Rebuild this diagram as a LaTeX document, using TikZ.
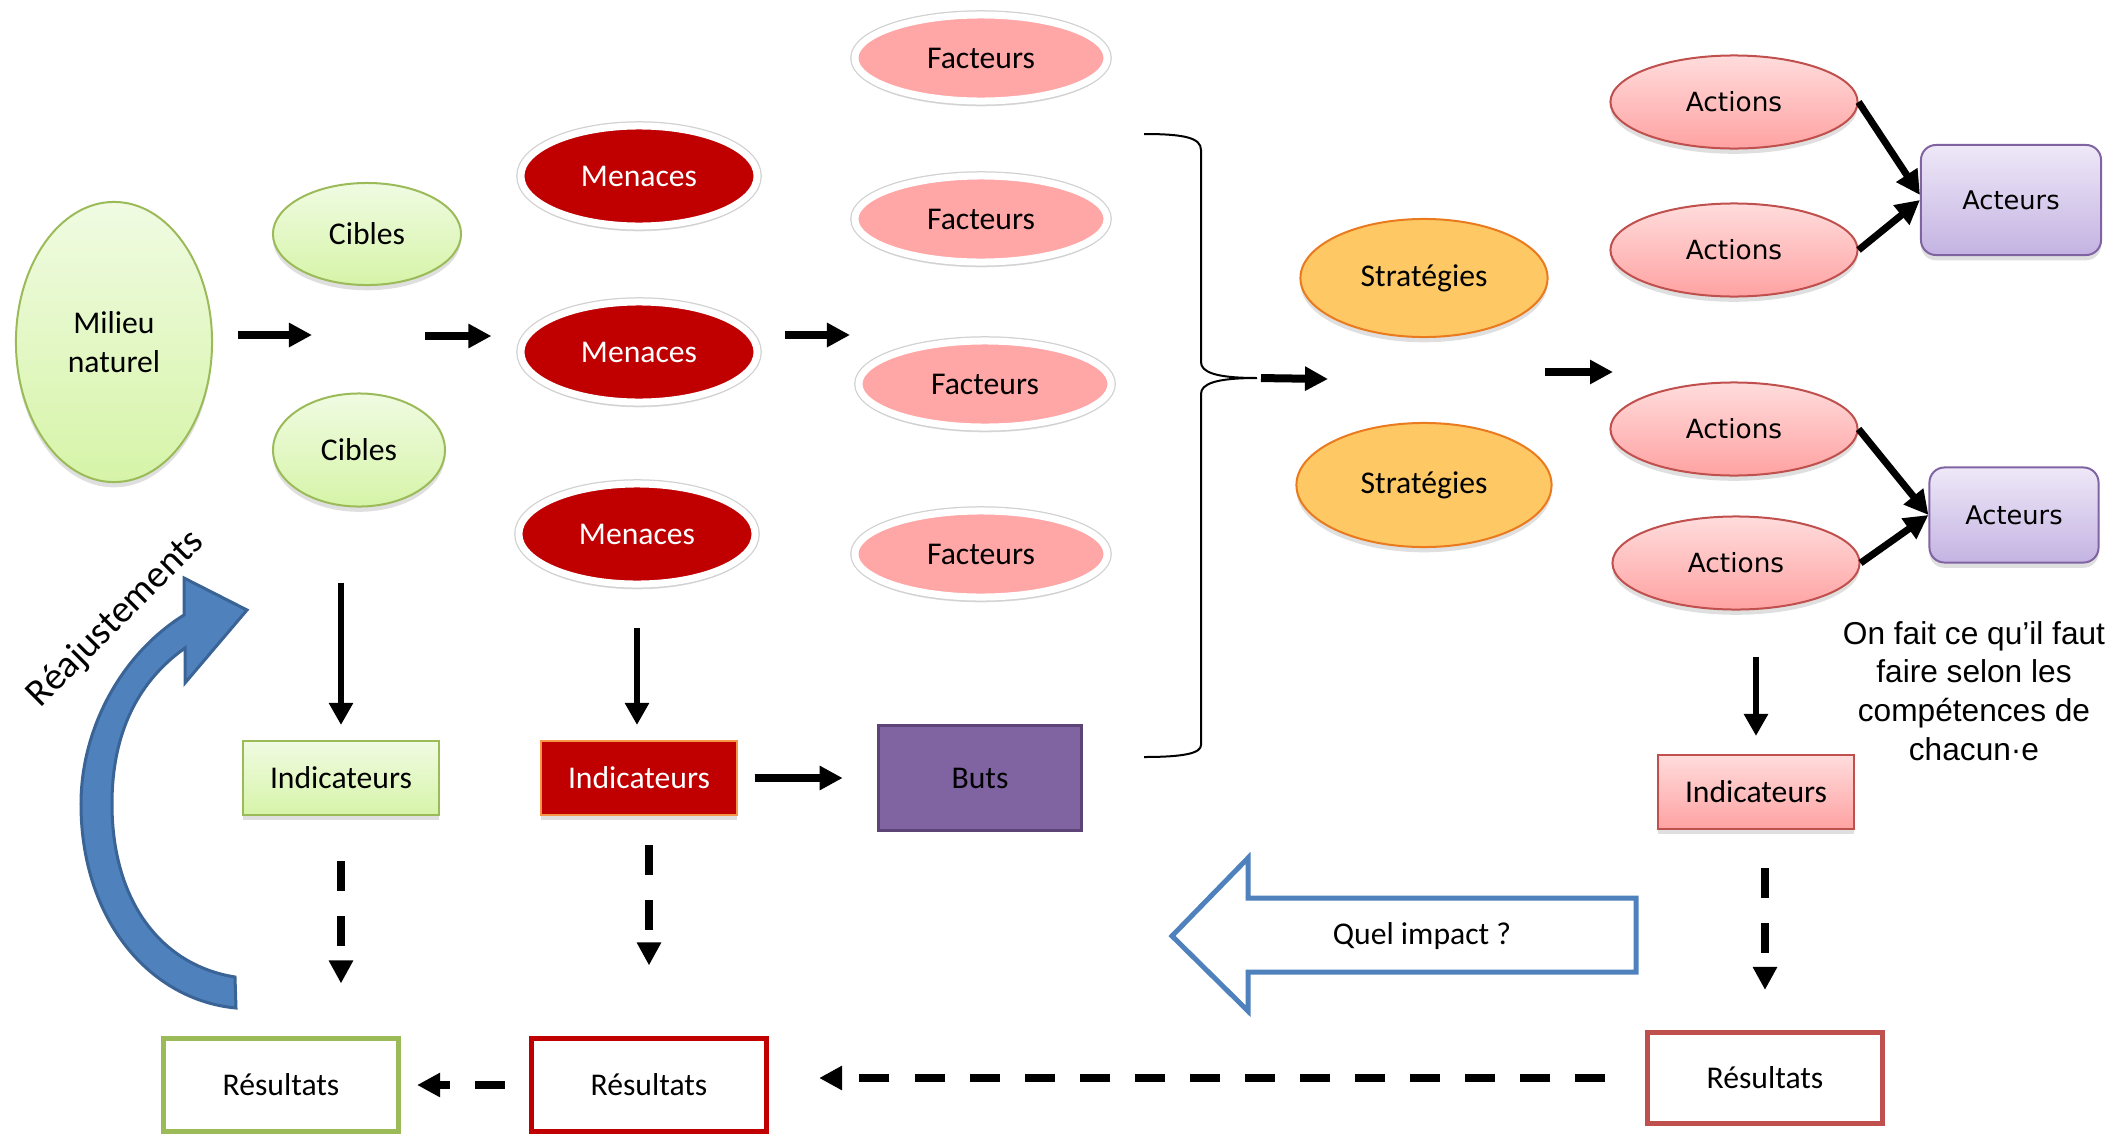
\documentclass[tikz,border=0pt]{standalone}
\usepackage{fontspec}
\setmainfont{Carlito}
\newfontfamily\verdana{DejaVu Sans}
\newfontfamily\arial{Liberation Sans}
\usetikzlibrary{arrows.meta,shapes.geometric,shadows}

\definecolor{vertbord}{HTML}{9BBB59}
\definecolor{verthaut}{HTML}{F0FBE2}
\definecolor{vertbas}{HTML}{D6F4A8}
\definecolor{rouge}{HTML}{C00000}
\definecolor{rose}{HTML}{FFA6A6}
\definecolor{rougebord}{HTML}{C0504D}
\definecolor{rosehaut}{HTML}{FFDCDC}
\definecolor{rosebas}{HTML}{FFA2A2}
\definecolor{orangefond}{HTML}{FEC864}
\definecolor{orangebord}{HTML}{E97A1E}
\definecolor{orangeclair}{HTML}{F79646}
\definecolor{violetbord}{HTML}{8064A2}
\definecolor{violethaut}{HTML}{EEE8F8}
\definecolor{violetbas}{HTML}{C4B3E2}
\definecolor{violetfonce}{HTML}{5C4476}
\definecolor{bleu}{HTML}{4F81BD}
\definecolor{bleufonce}{HTML}{3A6396}

\begin{document}
\begin{tikzpicture}[x=0.01cm,y=-0.01cm,
    every node/.style={font=\fontsize{9}{11}\selectfont},
    ombre/.style={drop shadow={shadow xshift=0pt,shadow yshift=-1.5pt,opacity=0.25}},
    anneau/.style={ombre,preaction={draw=black!18,line width=0.095cm},draw=white,line width=0.07cm},
    cible/.style={ellipse,ombre,draw=vertbord,line width=0.02cm,top color=verthaut,bottom color=vertbas,inner sep=0pt},
    menace/.style={ellipse,anneau,fill=rouge,text=white,inner sep=0pt,minimum width=2.36cm,minimum height=1cm},
    facteur/.style={ellipse,anneau,fill=rose,inner sep=0pt,minimum width=2.52cm,minimum height=0.86cm},
    strategie/.style={ellipse,ombre,draw=orangebord,line width=0.02cm,fill=orangefond,inner sep=0pt},
    action/.style={ellipse,ombre,draw=rougebord,line width=0.02cm,top color=rosehaut,bottom color=rosebas,inner sep=0pt,minimum width=2.47cm,minimum height=0.93cm,font=\verdana\fontsize{7.5}{9}\selectfont},
    acteur/.style={rectangle,rounded corners=0.15cm,ombre,draw=violetbord,line width=0.02cm,top color=violethaut,bottom color=violetbas,inner sep=0pt,font=\verdana\fontsize{7.3}{9}\selectfont},
    indic/.style={rectangle,ombre,line width=0.02cm,inner sep=0pt,minimum width=1.95cm,minimum height=0.74cm},
    resultat/.style={rectangle,fill=white,line width=0.05cm,inner sep=0pt,minimum width=2.35cm,minimum height=0.92cm},
    grosse/.style={line width=0.08cm,-{Triangle[length=0.23cm,width=0.23cm]}},
    fine/.style={line width=0.06cm,-{Triangle[length=0.22cm,width=0.23cm]}},
    diag/.style={line width=0.07cm,-{Triangle[length=0.24cm,width=0.24cm]}},
    tirets/.style={line width=0.08cm,dash pattern=on 0.3cm off 0.25cm,-{Triangle[length=0.23cm,width=0.23cm]}}]
    \useasboundingbox (0,0) rectangle (2108,1136);

    % milieu et cibles
    \node[cible,minimum width=1.96cm,minimum height=2.8cm,align=center] (milieu) at (114,342) {Milieu\\naturel};
    \node[cible,minimum width=1.88cm,minimum height=1.02cm] (cible1) at (367,234) {Cibles};
    \node[cible,minimum width=1.72cm,minimum height=1.13cm] (cible2) at (359,450) {Cibles};

    % menaces et facteurs
    \node[menace] (menace1) at (639,176) {Menaces};
    \node[menace] (menace2) at (639,352) {Menaces};
    \node[menace] (menace3) at (637,534) {Menaces};
    \node[facteur] (facteur1) at (981,58) {Facteurs};
    \node[facteur] (facteur2) at (981,219) {Facteurs};
    \node[facteur] (facteur3) at (985,384) {Facteurs};
    \node[facteur] (facteur4) at (981,554) {Facteurs};

    % strategies, actions, acteurs
    \node[strategie,minimum width=2.47cm,minimum height=1.18cm] (strat1) at (1424,278) {Stratégies};
    \node[strategie,minimum width=2.55cm,minimum height=1.24cm] (strat2) at (1424,485) {Stratégies};
    \node[action] (action1) at (1734,102) {Actions};
    \node[action] (action2) at (1734,250) {Actions};
    \node[action] (action3) at (1734,429) {Actions};
    \node[action] (action4) at (1736,563) {Actions};
    \node[acteur,minimum width=1.8cm,minimum height=1.1cm] (acteur1) at (2011,200) {Acteurs};
    \node[acteur,minimum width=1.69cm,minimum height=0.95cm] (acteur2) at (2014,515) {Acteurs};
    \node[align=center,font=\arial\fontsize{9}{11}\selectfont] (note) at (1974,691)
        {On fait ce qu’il faut\\faire selon les\\compétences de\\chacun·e};

    % indicateurs, buts, resultats
    \node[indic,draw=vertbord,top color=verthaut,bottom color=vertbas] (ind1) at (341,778) {Indicateurs};
    \node[indic,draw=orangeclair,fill=rouge,text=white] (ind2) at (639,778) {Indicateurs};
    \node[indic,draw=rougebord,top color=rosehaut,bottom color=rosebas] (ind3) at (1756,792) {Indicateurs};
    \node[rectangle,draw=violetfonce,line width=0.035cm,fill=violetbord,minimum width=2.03cm,minimum height=1.05cm] (buts) at (980,778) {Buts};
    \node[resultat,draw=vertbord] (res1) at (281,1085) {Résultats};
    \node[resultat,draw=rouge] (res2) at (649,1085) {Résultats};
    \node[resultat,draw=rougebord,minimum height=0.91cm] (res3) at (1765,1078) {Résultats};

    % accolade
    \draw[line width=0.02cm] (1144,134) .. controls (1185,134) and (1201,138) .. (1201,150) -- (1201,362)
        .. controls (1201,372) and (1215,378) .. (1257,378)
        .. controls (1215,378) and (1201,384) .. (1201,394) -- (1201,745)
        .. controls (1201,753) and (1185,757) .. (1144,757);
    \coordinate (pointe) at (1257,378);

    % fleches pleines
    \coordinate (p1) at (312,335);
    \coordinate (p2) at (425,336);
    \coordinate (p3) at (850,335);
    \coordinate (p4) at (1328,379);
    \coordinate (p5a) at (1545,372);
    \coordinate (p5b) at (1613,372);
    \draw[grosse,shorten <=0.25cm] (milieu.east |- p1) -- (p1);
    \draw[grosse,shorten >=0.26cm] (p2) -- (p2 -| menace2.west);
    \draw[grosse,shorten <=0.24cm] (menace2.east |- p3) -- (p3);
    \draw[grosse,shorten <=0.04cm] (pointe) -- (p4);
    \draw[grosse] (p5a) -- (p5b);
    \draw[diag] (action1.east) -- ([yshift=0.05cm]acteur1.west);
    \draw[diag] (action2.east) -- (acteur1.west);
    \draw[diag] (action3.east) -- (acteur2.west);
    \draw[diag] (action4.east) -- (acteur2.west);
    \draw[fine,shorten <=0.75cm,shorten >=0.15cm] (ind1.north |- cible2.south) -- (ind1.north);
    \draw[fine,shorten <=0.40cm,shorten >=0.15cm] (menace3.south) -- (menace3.south |- ind2.north);
    \draw[fine,shorten <=0.46cm,shorten >=0.18cm] (ind3.north |- action4.south) -- (ind3.north);
    \draw[grosse,shorten <=0.17cm,shorten >=0.34cm] (ind2) -- (buts);

    % fleches en tirets
    \draw[tirets,shorten <=0.45cm,shorten >=0.53cm] (ind1.south) -- (ind1.south |- res1.north);
    \draw[tirets,shorten <=0.29cm,shorten >=0.71cm] (res2.north |- ind2.south) -- (res2.north);
    \draw[tirets,shorten <=0.38cm,shorten >=0.40cm] (res3.north |- ind3.south) -- (res3.north);
    \draw[tirets,shorten <=0.40cm,shorten >=0.50cm] (res3.west) -- (res3.west -| res2.east);
    \draw[tirets,shorten <=0.24cm,shorten >=0.16cm] (res2.west) -- (res1.east);

    % quel impact
    \draw[draw=bleu,fill=white,line width=0.05cm] (1172,936) -- (1248,858) -- (1248,898) -- (1636,898)
        -- (1636,972) -- (1248,972) -- (1248,1011) -- cycle;
    \node (impact) at (1422,936) {Quel impact ?};

    % reajustements
    \filldraw[fill=bleu,draw=bleufonce,line width=0.03cm] (235,977) .. controls (160,965) and (112,900) .. (112,804)
        .. controls (112,730) and (140,680) .. (185,648) -- (185,683) -- (247,610) -- (184,578) -- (184,615)
        .. controls (120,655) and (81,730) .. (81,804) .. controls (81,920) and (150,1000) .. (236,1008) -- cycle;
    \node[rotate=45,font=\fontsize{11}{13}\selectfont] (reaj) at (116,619) {Réajustements};
\end{tikzpicture}
\end{document}
